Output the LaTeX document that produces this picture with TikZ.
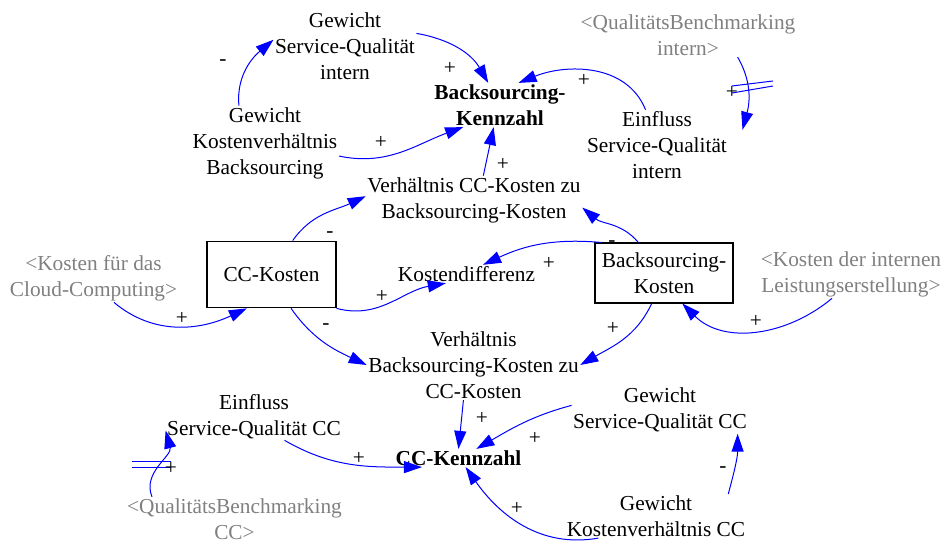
\documentclass[tikz,border=0pt]{standalone}
\usepackage{fontspec}
\setmainfont{Liberation Serif}
\usetikzlibrary{arrows.meta}
\tikzstyle{every node}=[font=\fontsize{16}{19.5}\selectfont, align=center, inner sep=1pt]
\tikzstyle{stock}=[draw, rectangle, line width=0.8pt]
\tikzstyle{shadow}=[text=gray]
\tikzstyle{link}=[->, blue, line width=0.75pt]
\tikzstyle{delay}=[blue, line width=0.75pt]
\begin{document}
\begin{tikzpicture}[x=0.75pt, y=0.75pt, >={Triangle[length=13.5pt,width=9pt]}]
  \useasboundingbox (0,0) rectangle (951,543);
  % variables
  \node (gsqi) at (345,497) {Gewicht\\Service-Qualit\"at\\intern};
  \node[font=\fontsize{16}{19.5}\selectfont\bfseries] (bk) at (500,438) {Backsourcing-\\Kennzahl};
  \node (gkb) at (265,400) {Gewicht\\Kostenverh\"altnis\\Backsourcing};
  \node (vcb) at (474,343) {Verh\"altnis CC-Kosten zu\\Backsourcing-Kosten};
  \node[shadow] (qbi) at (688,508) {<Qualit\"atsBenchmarking\\intern>};
  \node (esqi) at (657,398) {Einfluss\\Service-Qualit\"at\\intern};
  \node[stock, minimum width=96.75pt, minimum height=50pt] (cck) at (271.5,268.5) {CC-Kosten};
  \node (kd) at (466.5,269) {Kostendifferenz};
  \node[stock, minimum width=103.5pt, minimum height=45pt] (bsk) at (664,270) {Backsourcing-\\Kosten};
  \node[shadow] (kcc) at (93.5,265) {<Kosten f\"ur das\\Cloud-Computing>};
  \node[shadow] (kil) at (851,269) {<Kosten der internen\\Leistungserstellung>};
  \node (vbc) at (473.5,178) {Verh\"altnis\\Backsourcing-Kosten zu\\CC-Kosten};
  \node (esqc) at (254,126.5) {Einfluss\\Service-Qualit\"at CC};
  \node[font=\fontsize{16}{19.5}\selectfont\bfseries] (cckz) at (458.5,85) {CC-Kennzahl};
  \node (gsqc) at (660,133) {Gewicht\\Service-Qualit\"at CC};
  \node[shadow] (qbcc) at (234.5,24) {<Qualit\"atsBenchmarking\\CC>};
  \node (gkcc) at (656,27) {Gewicht\\Kostenverh\"altnis CC};
  % links
  \draw[link] (gkb.125) to[out=95,in=220] (gsqi.175);
  \draw[link] (gsqi.10) to[out=-10,in=120] (bk.118);
  \draw[link] (gkb.350) to[out=-12,in=200] (bk.211);
  \draw[link] (vcb.69) -- (bk.254);
  \draw[link] (esqi.108) to[out=112,in=22] (bk.50);
  \draw[link] (qbi.336) to[out=-60,in=75] ([xshift=10.5pt]esqi.12);
  \draw[link] (cck.58) to[out=55,in=205] (vcb.178);
  \draw[link] (bsk.130) to[out=130,in=-40] (vcb.356);
  \draw[link] (bsk.154) to[out=175,in=25] (kd.29);
  \draw[link] (cck.south east) to[out=-15,in=190] (kd.204);
  \draw[link] (kcc.310) to[out=-40,in=205] (cck.234);
  \draw[link] (cck.300) to[out=-55,in=155] (vbc.west);
  \draw[link] (bsk.248) to[out=-115,in=30] (vbc.east);
  \draw[link] (kil.232) to[out=-140,in=-45] (bsk.301);
  \draw[link] (vbc.254) -- (cckz.north);
  \draw[link] (gsqc.177) to[out=195,in=30] (cckz.27);
  \draw[link] (gkcc.17) to[out=75,in=-90] (gsqc.343);
  \draw[link] (gkcc.201) to[out=190,in=-55] (cckz.308);
  \draw[link] (esqc.322) to[out=-30,in=180] (cckz.194);
  \draw[link] (qbcc.165) to[out=112,in=-75] (esqc.189);
  % delay marks
  \draw[delay] (732,457) -- (773,462) (732,450) -- (773,457);
  \draw[delay] (132,81) -- (171,81) (132,75) -- (171,75);
  % polarities
  \foreach \x/\y/\s [count=\i] in {223/480/-, 450/475/+, 381/401/+, 503/379/+, 584/463/+,
      732/451/+, 330/308/-, 612/299/-, 549/280/+, 382/247/+, 182/225/+, 326/216/-,
      613/215/+, 756/222/+, 482/125/+, 535/105/+, 723/73/-, 517/35/+, 359/85/+, 171/75/+}
    \node (sign\i) at (\x,\y) {\s};
\end{tikzpicture}
\end{document}
